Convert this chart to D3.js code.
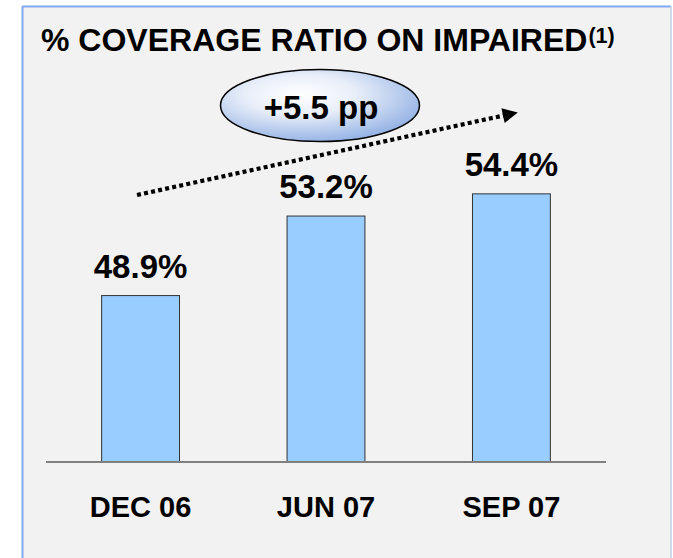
<!DOCTYPE html>
<html>
<head>
<meta charset="utf-8">
<script src="https://cdn.jsdelivr.net/npm/d3@7"></script>
<style>
  html, body { margin: 0; padding: 0; background: #ffffff; }
  svg { display: block; }
  text { font-family: "Liberation Sans", Arial, Helvetica, sans-serif; font-weight: bold; fill: #000; }
</style>
</head>
<body>
<script>
const categories = ["DEC 06", "JUN 07", "SEP 07"];
const values = [48.9, 53.2, 54.4];
const valueLabels = ["48.9%", "53.2%", "54.4%"];
const title = "% COVERAGE RATIO ON IMPAIRED";
const titleNote = "(1)";
const changeLabel = "+5.5 pp";

const W = 673, H = 558;
const svg = d3.select("body").append("svg").attr("width", W).attr("height", H);

// gradient for the ellipse
const defs = svg.append("defs");
const grad = defs.append("radialGradient").attr("id", "ellGrad")
  .attr("cx", "0.4").attr("cy", "0.35").attr("r", "0.7");
grad.append("stop").attr("offset", "0%").attr("stop-color", "#ffffff");
grad.append("stop").attr("offset", "40%").attr("stop-color", "#e8eef9");
grad.append("stop").attr("offset", "100%").attr("stop-color", "#8eaee3");
defs.append("marker").attr("id", "arrowHead")
  .attr("viewBox", "0 0 10 10").attr("refX", 2).attr("refY", 5)
  .attr("markerWidth", 4.2).attr("markerHeight", 3.6)
  .attr("markerUnits", "strokeWidth")
  .attr("orient", "auto")
  .append("path").attr("d", "M0,0 L10,5 L0,10 Z").attr("fill", "#000");

// panel
svg.append("rect").attr("x", 22).attr("y", 6.5).attr("width", 649).attr("height", 560)
  .attr("fill", "#f2f2f2");
svg.append("line").attr("x1", 22.5).attr("y1", 6.5).attr("x2", 22.5).attr("y2", H)
  .attr("stroke", "#84a8f0").attr("stroke-width", 2);
svg.append("line").attr("x1", 22).attr("y1", 6.5).attr("x2", 671).attr("y2", 6.5)
  .attr("stroke", "#84a8f0").attr("stroke-width", 2);
svg.append("line").attr("x1", 671).attr("y1", 6).attr("x2", 671).attr("y2", H)
  .attr("stroke", "#c2d0ea").attr("stroke-width", 1.5);

// title
const t = svg.append("text").attr("x", 41).attr("y", 51).attr("font-size", 32).text(title);
t.append("tspan").attr("font-size", 21.5).attr("dy", -8).attr("dx", 1).text(titleNote);

// scales
const x = d3.scaleBand().domain(categories).range([46, 606]).paddingInner(0.58).paddingOuter(0.3);
const y = d3.scaleLinear().domain([39.9, 60]).range([462, 90.3]);

// bars
svg.selectAll("rect.bar").data(values).enter().append("rect")
  .attr("class", "bar")
  .attr("x", (d, i) => x(categories[i]))
  .attr("y", d => y(d))
  .attr("width", x.bandwidth())
  .attr("height", d => y(39.9) - y(d))
  .attr("fill", "#99ccff")
  .attr("stroke", "#333333")
  .attr("stroke-width", 1);

// baseline axis
const xAxis = d3.axisBottom(x).tickSize(0).tickPadding(0);
const ax = svg.append("g").attr("transform", `translate(0,${y(39.9)})`).call(xAxis);
ax.select(".domain").attr("stroke", "#808080").attr("stroke-width", 2).attr("d", "M46,0H606");
ax.selectAll(".tick text")
  .attr("font-size", 29).attr("font-family", "Liberation Sans, Arial, sans-serif")
  .attr("font-weight", "bold").attr("fill", "#000")
  .attr("dy", 0).attr("y", 54.5);

// value labels
svg.selectAll("text.val").data(values).enter().append("text")
  .attr("class", "val")
  .attr("x", (d, i) => x(categories[i]) + x.bandwidth() / 2)
  .attr("y", d => y(d) - 18)
  .attr("text-anchor", "middle")
  .attr("font-size", 33)
  .text((d, i) => valueLabels[i]);

// dotted trend arrow
svg.append("line")
  .attr("x1", 137).attr("y1", 195).attr("x2", 506).attr("y2", 115)
  .attr("stroke", "#000").attr("stroke-width", 4.2)
  .attr("stroke-dasharray", "4,3.2")
  .attr("marker-end", "url(#arrowHead)");

// ellipse with change
svg.append("ellipse").attr("cx", 320).attr("cy", 105.5).attr("rx", 99.5).attr("ry", 36)
  .attr("fill", "url(#ellGrad)").attr("stroke", "#000").attr("stroke-width", 1.5);
svg.append("text").attr("x", 321).attr("y", 119).attr("text-anchor", "middle")
  .attr("font-size", 33).text(changeLabel);
</script>
</body>
</html>
